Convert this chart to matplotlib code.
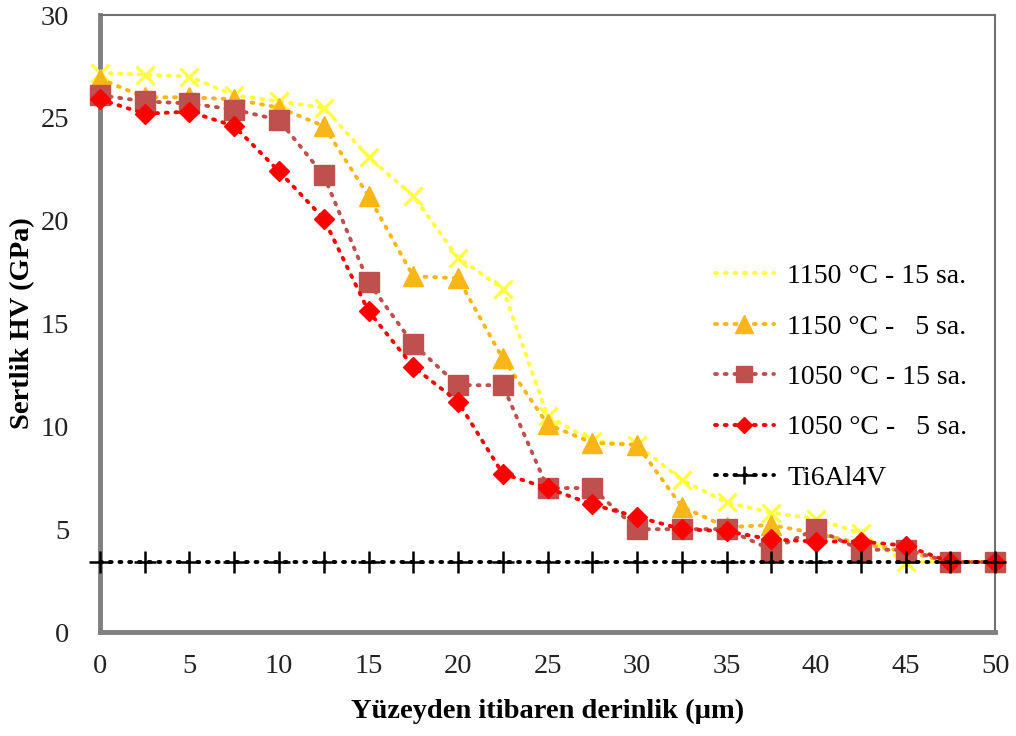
"""Sertlik profili: yüzeyden derinliğe göre HV (GPa)."""

import matplotlib
matplotlib.use("Agg")
import matplotlib.pyplot as plt

# ---------- data -----------------------------------------------------------
depth = [0, 2.5, 5, 7.5, 10, 12.5, 15, 17.5, 20, 22.5, 25,
         27.5, 30, 32.5, 35, 37.5, 40, 42.5, 45, 47.5, 50]

hv_1150_15 = [27.2, 27.1, 27.0, 26.1, 25.8, 25.5, 23.1, 21.2, 18.2, 16.7, 10.5,
              9.3, 9.1, 7.4, 6.3, 5.8, 5.5, 4.8, 3.4, 3.4, 3.4]
hv_1150_5 = [26.9, 26.0, 26.0, 25.9, 25.5, 24.6, 21.2, 17.3, 17.2, 13.3, 10.1,
             9.2, 9.1, 6.1, 5.1, 5.2, 4.8, 4.3, 3.9, 3.4, 3.4]
hv_1050_15 = [26.1, 25.8, 25.7, 25.4, 24.9, 22.2, 17.0, 14.0, 12.0, 12.0, 7.0,
              7.0, 5.0, 5.0, 5.0, 4.0, 5.0, 4.0, 4.0, 3.4, 3.4]
hv_1050_5 = [25.9, 25.2, 25.3, 24.6, 22.4, 20.1, 15.6, 12.9, 11.2, 7.7, 7.0,
             6.2, 5.6, 5.0, 4.9, 4.5, 4.4, 4.4, 4.2, 3.4, 3.4]
hv_ti6al4v = [3.4] * len(depth)

labels = ["1150 °C - 15 sa.", "1150 °C -   5 sa.", "1050 °C - 15 sa.",
          "1050 °C -   5 sa.", "Ti6Al4V"]

x_ticks = [0, 5, 10, 15, 20, 25, 30, 35, 40, 45, 50]
y_ticks = [0, 5, 10, 15, 20, 25, 30]

# ---------- plot -----------------------------------------------------------
plt.rcParams["font.family"] = ["Liberation Serif", "DejaVu Serif"]

fig = plt.figure(figsize=(10.16, 7.36), dpi=100)
ax = fig.add_axes([0.0984, 0.1413, 0.8810, 0.8383])

dots = (0, (0.5, 2.0))
common = dict(linestyle=dots, linewidth=2.8, dash_capstyle="round", clip_on=False)

ax.plot(depth, hv_1150_15, color="#FFFF3C", marker="x", markersize=13,
        markeredgewidth=2.2, label=labels[0], zorder=3, **common)
ax.plot(depth, hv_1150_5, color="#F9B618", marker="^", markersize=15,
        markeredgecolor="#F9B618", label=labels[1], zorder=3.1, **common)
ax.plot(depth, hv_1050_15, color="#C0504D", marker="s", markersize=14,
        markeredgecolor="#C0504D", label=labels[2], zorder=3.2, **common)
ax.plot(depth, hv_1050_5, color="#FF0000", marker="D", markersize=10,
        markeredgecolor="#FF0000", label=labels[3], zorder=3.3, **common)
ax.plot(depth, hv_ti6al4v, color="black", marker="+", markersize=16,
        markeredgewidth=1.8, label=labels[4], zorder=3.4, **common)

ax.set_xlim(0, 50)
ax.set_ylim(0, 30)
ax.set_xticks(x_ticks)
ax.set_yticks(y_ticks)
ax.tick_params(length=0, labelsize=20.5, colors="#222222")
ax.tick_params(axis="x", pad=16)
ax.tick_params(axis="y", pad=22)

for side in ("top", "right"):
    ax.spines[side].set_color("#707070")
    ax.spines[side].set_linewidth(1.5)
for side in ("left", "bottom"):
    ax.spines[side].set_color("#808080")
    ax.spines[side].set_linewidth(3.5)

ax.set_xlabel("Yüzeyden itibaren derinlik (µm)", fontsize=20.5,
              fontweight="bold", labelpad=14)
ax.set_ylabel("Sertlik HV (GPa)", fontsize=20.5, fontweight="bold", labelpad=4)

leg = ax.legend(loc="upper left", bbox_to_anchor=(0.675, 0.615), frameon=False,
                fontsize=20, handlelength=2.1, handletextpad=0.5,
                labelspacing=0.9, borderaxespad=0, markerscale=0.85)
# the 15 h / 1150 °C entry shows only its dotted line in the legend
leg.legend_handles[0].set_marker("None")

fig.savefig("out.png", dpi=100)
